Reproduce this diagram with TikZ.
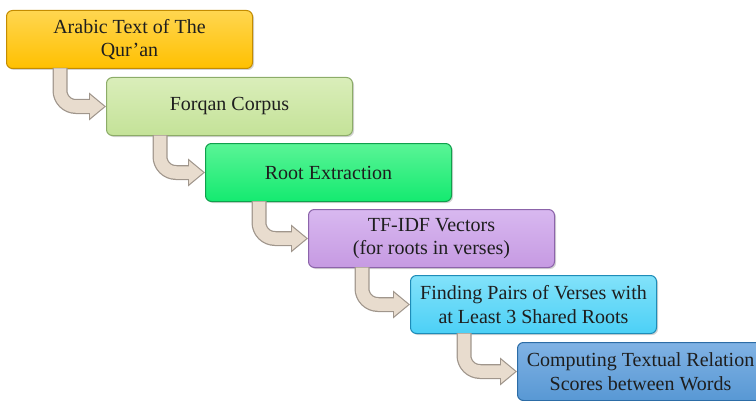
\documentclass[tikz,border=0pt]{standalone}
\usepackage{fontspec}
\setmainfont{Liberation Serif}
\newfontfamily\stagefont{Liberation Serif}
\usepackage{tikz}
\usetikzlibrary{arrows.meta,shadows}
\definecolor{goldfill}{RGB}{255,192,0}
\definecolor{goldtop}{RGB}{255,214,80}
\definecolor{goldedge}{RGB}{196,140,0}
\definecolor{sagefill}{RGB}{196,226,152}
\definecolor{sagetop}{RGB}{218,238,186}
\definecolor{sageedge}{RGB}{140,172,104}
\definecolor{mintfill}{RGB}{20,234,112}
\definecolor{minttop}{RGB}{90,244,150}
\definecolor{mintedge}{RGB}{16,160,76}
\definecolor{lilacfill}{RGB}{198,154,226}
\definecolor{lilactop}{RGB}{216,184,240}
\definecolor{lilacedge}{RGB}{140,100,170}
\definecolor{skyfill}{RGB}{76,208,246}
\definecolor{skytop}{RGB}{130,226,250}
\definecolor{skyedge}{RGB}{30,140,184}
\definecolor{steelfill}{RGB}{88,152,212}
\definecolor{steeltop}{RGB}{128,178,228}
\definecolor{steeledge}{RGB}{44,108,166}
\definecolor{arrowrimcol}{RGB}{160,150,140}
\definecolor{arrowbodycol}{RGB}{232,220,206}
\definecolor{darktext}{RGB}{30,30,30}

\begin{document}
\begin{tikzpicture}[x=1pt, y=1pt]
\tikzstyle{stage} = [rectangle, rounded corners=6pt, anchor=north west, minimum width=246pt, minimum height=58pt, align=center, text=darktext, line width=1pt, font=\stagefont\fontsize{20}{23.5}\selectfont, drop shadow={shadow xshift=1.5pt, shadow yshift=-1.5pt, opacity=0.35}]
\tikzstyle{arrowrim} = [draw=arrowrimcol, line width=15pt, rounded corners=16pt, -{Triangle[length=17pt, width=27pt]}]
\tikzstyle{arrowbody} = [draw=arrowbodycol, line width=12.5pt, rounded corners=16pt, shorten >=1.8pt, -{Triangle[length=14pt, width=22pt]}]

\useasboundingbox (0,0) rectangle (756,400);

\node (ArabicText) [stage, top color=goldtop, bottom color=goldfill, draw=goldedge] at (6,390) {Arabic Text of The\\Qur’an};
\node (Forqan) [stage, top color=sagetop, bottom color=sagefill, draw=sageedge] at (106,323) {Forqan Corpus};
\node (RootExtraction) [stage, top color=minttop, bottom color=mintfill, draw=mintedge] at (205,257) {Root Extraction};
\node (TFIDF) [stage, top color=lilactop, bottom color=lilacfill, draw=lilacedge] at (308,191) {TF-IDF Vectors\\(for roots in verses)};
\node (VersePairs) [stage, top color=skytop, bottom color=skyfill, draw=skyedge] at (410,125) {Finding Pairs of Verses with\\at Least 3 Shared Roots};
\node (RelationScores) [stage, top color=steeltop, bottom color=steelfill, draw=steeledge] at (517,58) {Computing Textual Relation\\Scores between Words};

% bent arrows between consecutive stages
\foreach \from/\to in {ArabicText/Forqan, Forqan/RootExtraction, RootExtraction/TFIDF, TFIDF/VersePairs, VersePairs/RelationScores}
{
  \draw [arrowrim] ([xshift=54pt, yshift=1pt]\from.south west) |- (\to.west);
  \draw [arrowbody] ([xshift=54pt, yshift=0.5pt]\from.south west) |- (\to.west);
}
\end{tikzpicture}
\end{document}
